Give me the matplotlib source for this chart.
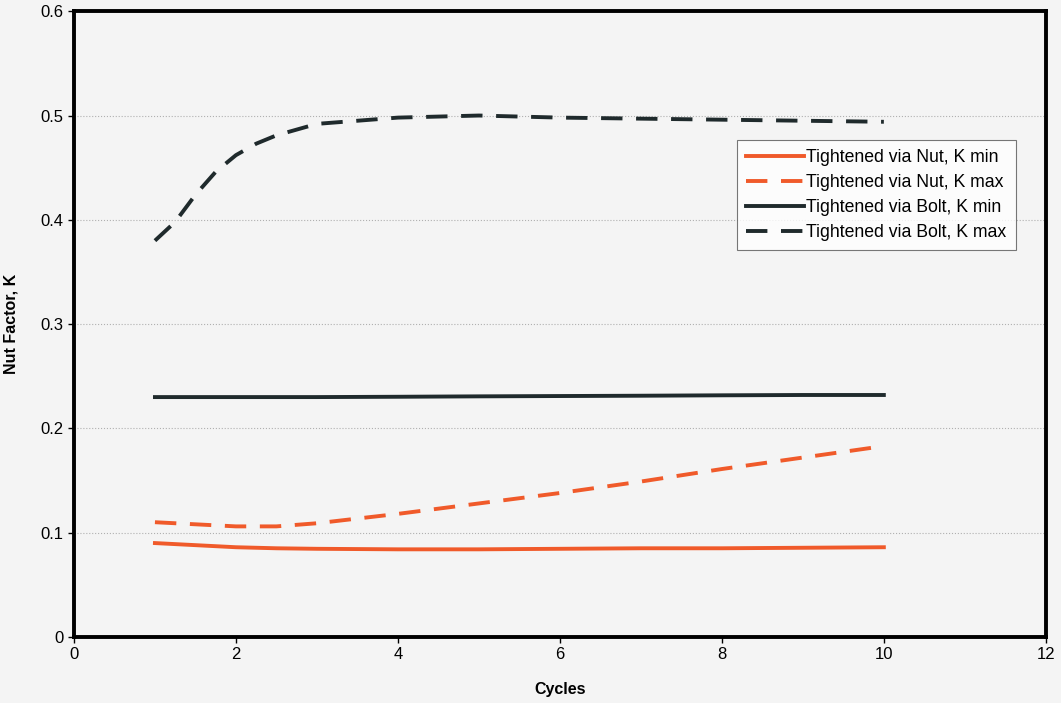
import numpy as np
import matplotlib
matplotlib.use('Agg')
from matplotlib import pyplot as plt

plt.rcParams['font.family'] = ['Liberation Sans', 'DejaVu Sans']

# values (cycles 1..10, extra points where the curves bend)
cycles = [1, 1.25, 1.5, 1.75, 2, 2.25, 2.5, 3, 4, 5, 6, 7, 8, 9, 10]
nut_kmin = [0.090, 0.089, 0.088, 0.087, 0.086, 0.0855, 0.085, 0.0845, 0.084, 0.084, 0.0845, 0.085, 0.085, 0.0855, 0.086]
nut_kmax = [0.110, 0.109, 0.108, 0.107, 0.106, 0.106, 0.106, 0.109, 0.118, 0.128, 0.138, 0.149, 0.161, 0.172, 0.183]
bolt_kmin = [0.230, 0.230, 0.230, 0.230, 0.230, 0.230, 0.230, 0.230, 0.2303, 0.2307, 0.231, 0.2313, 0.2317, 0.232, 0.232]
bolt_kmax = [0.380, 0.398, 0.424, 0.446, 0.462, 0.473, 0.481, 0.492, 0.498, 0.500, 0.498, 0.497, 0.496, 0.495, 0.494]

orange = '#f05a2a'
dark = '#1f2a2c'

fig = plt.figure(figsize=(10.61, 7.03), dpi=100, facecolor='#f4f4f4')
ax = fig.add_axes([0.0697, 0.094, 0.916, 0.890])
ax.set_facecolor('#f4f4f4')

lw = 2.8
ax.plot(cycles, nut_kmin, color=orange, lw=lw, label='Tightened via Nut, K min')
ax.plot(cycles, nut_kmax, color=orange, lw=lw, dashes=(5.5, 3.5), label='Tightened via Nut, K max')
ax.plot(cycles, bolt_kmin, color=dark, lw=lw, label='Tightened via Bolt, K min')
ax.plot(cycles, bolt_kmax, color=dark, lw=lw, dashes=(5.5, 3.5), label='Tightened via Bolt, K max')

ax.set_xlim(0, 12)
ax.set_ylim(0, 0.6)
ax.set_xticks(np.arange(0, 13, 2))
ax.set_yticks(np.arange(0, 0.61, 0.1))
ax.set_yticklabels(['0', '0.1', '0.2', '0.3', '0.4', '0.5', '0.6'])
ax.yaxis.grid(True, color='#b0b0b0', ls=':', lw=0.8)
ax.set_axisbelow(True)
for s in ax.spines.values():
    s.set_linewidth(2.8)
    s.set_color('black')
ax.tick_params(labelsize=12, length=4, width=1)

ax.set_xlabel('Cycles', fontsize=11.5, fontweight='bold', labelpad=14)
ax.set_ylabel('Nut Factor, K', fontsize=11.5, fontweight='bold', labelpad=16)

leg = ax.legend(loc='upper left', bbox_to_anchor=(0.682, 0.794), fontsize=12.7,
                frameon=True, fancybox=False, edgecolor='#555555', facecolor='white',
                handlelength=3.3, handletextpad=0.15, borderpad=0.5, labelspacing=0.45,
                borderaxespad=0)
leg.get_frame().set_linewidth(0.8)

plt.savefig('out.png', dpi=100, facecolor=fig.get_facecolor())
